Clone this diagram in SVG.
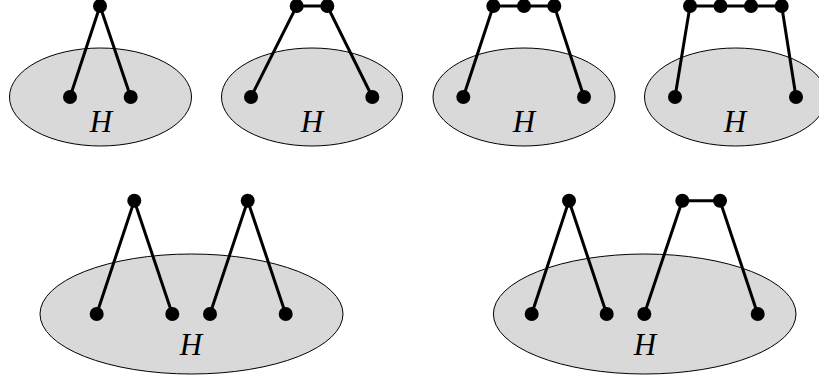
<svg xmlns="http://www.w3.org/2000/svg" width="819" height="383" viewBox="0 0 819 383">
<style>
.reg{fill:#d9d9d9;stroke:#000;stroke-width:1}
.e{stroke:#000;stroke-width:3;fill:none;stroke-linecap:round}
.v{fill:#000}
.lbl{font-family:"Liberation Serif",serif;font-style:italic;font-size:31px;text-anchor:middle;fill:#000}
</style>
<rect width="819" height="383" fill="#fff"/>
<g id="regions">
<g id="H1"><ellipse class="reg" cx="100.5" cy="97" rx="91" ry="49"/><text class="lbl" x="101" y="132">H</text></g>
<g id="H2"><ellipse class="reg" cx="312" cy="97" rx="90.5" ry="49"/><text class="lbl" x="312" y="132">H</text></g>
<g id="H3"><ellipse class="reg" cx="524" cy="97" rx="91" ry="49"/><text class="lbl" x="524" y="132">H</text></g>
<g id="H4"><ellipse class="reg" cx="735.5" cy="97" rx="91" ry="49"/><text class="lbl" x="735" y="132">H</text></g>
<g id="H5"><ellipse class="reg" cx="191.5" cy="314" rx="151.5" ry="60"/><text class="lbl" x="191" y="355">H</text></g>
<g id="H6"><ellipse class="reg" cx="644.7" cy="314" rx="151.3" ry="60"/><text class="lbl" x="645" y="355">H</text></g>
</g>
<g id="connectors">
<path class="e" d="M70 97L100 6L130.7 97"/>
<path class="e" d="M251 97L296.7 6L327.3 6L372.3 97"/>
<path class="e" d="M463.3 97L493.3 6L554.3 6L584 97"/>
<path class="e" d="M675 97L690 6L781.7 6L796 97"/>
<path class="e" d="M96.7 314L134.3 200.7L172.3 314"/>
<path class="e" d="M210 314L247.7 200.7L285.7 314"/>
<path class="e" d="M531.7 314L569 200.7L606.7 314"/>
<path class="e" d="M644.3 314L682.3 200.7L720 200.7L757.7 314"/>
</g>
<g id="nodes">
<g id="n1" class="v"><circle cx="100" cy="6" r="7"/><circle cx="70" cy="97" r="7"/><circle cx="130.7" cy="97" r="7"/></g>
<g id="n2" class="v"><circle cx="296.7" cy="6" r="7"/><circle cx="327.3" cy="6" r="7"/><circle cx="251" cy="97" r="7"/><circle cx="372.3" cy="97" r="7"/></g>
<g id="n3" class="v"><circle cx="493.3" cy="6" r="7"/><circle cx="524" cy="6" r="7"/><circle cx="554.3" cy="6" r="7"/><circle cx="463.3" cy="97" r="7"/><circle cx="584" cy="97" r="7"/></g>
<g id="n4" class="v"><circle cx="690" cy="6" r="7"/><circle cx="720.5" cy="6" r="7"/><circle cx="751" cy="6" r="7"/><circle cx="781.7" cy="6" r="7"/><circle cx="675" cy="97" r="7"/><circle cx="796" cy="97" r="7"/></g>
<g id="n5" class="v"><circle cx="134.3" cy="200.7" r="7"/><circle cx="247.7" cy="200.7" r="7"/><circle cx="96.7" cy="314" r="7"/><circle cx="172.3" cy="314" r="7"/><circle cx="210" cy="314" r="7"/><circle cx="285.7" cy="314" r="7"/></g>
<g id="n6" class="v"><circle cx="569" cy="200.7" r="7"/><circle cx="682.3" cy="200.7" r="7"/><circle cx="720" cy="200.7" r="7"/><circle cx="531.7" cy="314" r="7"/><circle cx="606.7" cy="314" r="7"/><circle cx="644.3" cy="314" r="7"/><circle cx="757.7" cy="314" r="7"/></g>
</g>
</svg>
